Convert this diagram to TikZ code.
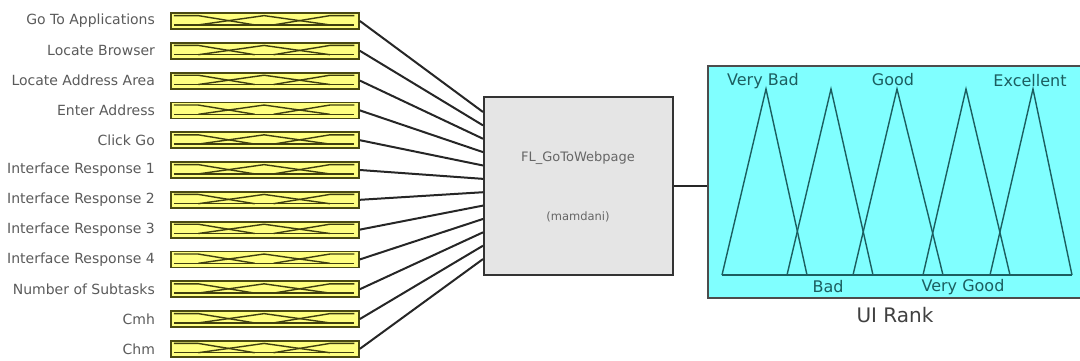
\documentclass[tikz,border=0pt]{standalone}
\usepackage{fontspec}
\setmainfont{DejaVu Sans}
\usetikzlibrary{calc}
\definecolor{inyellow}{HTML}{FFFF80}
\definecolor{inedge}{HTML}{4A4A12}
\definecolor{mfcyan}{HTML}{80FFFF}
\definecolor{mfline}{HTML}{1C5E60}
\definecolor{labgray}{HTML}{5A5A5A}
\tikzset{
  inbox/.style={draw=inedge, line width=1.8pt, fill=inyellow, minimum width=188pt, minimum height=16pt, inner sep=0pt},
  inmf/.style={draw=inedge!85!black, line width=1.4pt},
  inlab/.style={anchor=east, text=labgray, font=\fontsize{14}{16}\selectfont, inner sep=0pt},
  wire/.style={draw=black!85, line width=2pt},
  fisbox/.style={draw=black!80, line width=2pt, fill=black!10, minimum width=189pt, minimum height=178pt, inner sep=0pt},
  fistext/.style={text=black!60, inner sep=0pt},
  outbox/.style={draw=black!70, line width=1.6pt, fill=mfcyan, minimum width=376pt, minimum height=232pt, inner sep=0pt},
  tri/.style={draw=mfline, line width=1.4pt, line join=miter},
  mflab/.style={text=mfline, font=\fontsize{16}{18}\selectfont, inner sep=0pt},
}
\begin{document}
\begin{tikzpicture}[x=1pt, y=-1pt]
\useasboundingbox (0,0) rectangle (1080,360);

% input variables
\foreach \i/\txt in {1/Go To Applications, 2/Locate Browser, 3/Locate Address Area,
  4/Enter Address, 5/Click Go, 6/Interface Response 1, 7/Interface Response 2,
  8/Interface Response 3, 9/Interface Response 4, 10/Number of Subtasks,
  11/Cmh, 12/Chm}{
  \node[inbox] (in\i) at (265, 21+29.8*\i-29.8) {};
  \begin{scope}[shift={(in\i.north west)}, x=188pt, y=-16pt]
    \draw[inmf] (0.02,0.22) -- (0.15,0.22) -- (0.45,0.8);
    \draw[inmf] (0.15,0.8) -- (0.5,0.22) -- (0.85,0.8);
    \draw[inmf] (0.55,0.8) -- (0.85,0.22) -- (0.98,0.22);
    \draw[inmf] (0.02,0.8) -- (0.98,0.8);
  \end{scope}
  \node[inlab] (lab\i) at ($(in\i.west)+(-15,0)$) {\txt};
}

% fuzzy inference system
\node[fisbox] (fl) at (578.5,186) {};
\node[fistext, font=\fontsize{13}{15}\selectfont] (flname) at (578,158) {FL\_GoToWebpage};
\node[fistext, font=\fontsize{11.5}{14}\selectfont] (fltype) at (578,217) {(mamdani)};

\foreach \i in {1,...,12}{
  \coordinate (p\i) at ($(fl.north west)+(0,16+13.37*\i-13.37)$);
  \draw[wire] (in\i.east) -- (p\i);
}

% output variable
\node[outbox] (out) at (896,182) {};
\draw[wire] (fl.east) -- (fl.east -| out.west);

\draw[tri] (722,275) -- (1072,275);
\draw[tri] (722,275) -- (766,89) -- (807,275);
\draw[tri] (787,275) -- (831,89) -- (873,275);
\draw[tri] (853,275) -- (897,89) -- (943,275);
\draw[tri] (923,275) -- (966,89) -- (1010,275);
\draw[tri] (990,275) -- (1033,89) -- (1072,275);

\node[mflab] (vbad) at (763,81) {Very Bad};
\node[mflab] (good) at (893,80) {Good};
\node[mflab] (exc) at (1030,81) {Excellent};
\node[mflab] (bad) at (828,287) {Bad};
\node[mflab] (vgood) at (963,287) {Very Good};
\node[text=black!75, font=\fontsize{20}{22}\selectfont, inner sep=0pt] (rank) at (895,315) {UI Rank};
\end{tikzpicture}
\end{document}
